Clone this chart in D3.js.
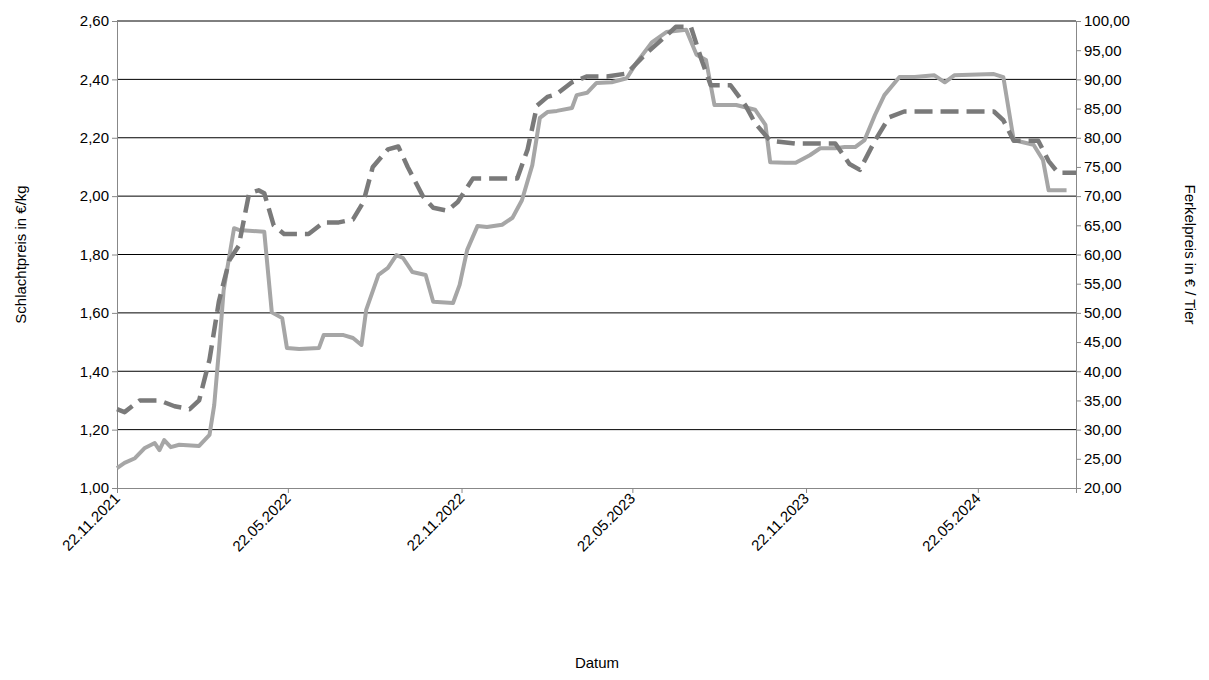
<!DOCTYPE html>
<html lang='en'>
<head>
<meta charset='utf-8' />
<title>Schlachtpreis / Ferkelpreis</title>
<script src='https://cdn.jsdelivr.net/npm/d3@7'></script>
<style>
  body { margin: 0; background: #fff; }
  text { font-family: 'Liberation Sans', Arial, sans-serif; font-size: 15px; fill: #000; }
</style>
</head>
<body>
<svg id='chart' width='1209' height='680'></svg>
<script>
// Schlachtpreis (€/kg), left axis
var schlachtDates = ["2021-11-22","2021-11-30","2021-12-16","2022-01-06","2022-01-22","2022-02-07","2022-02-17","2022-02-28","2022-03-10","2022-03-21","2022-03-31","2022-04-11","2022-04-21","2022-04-27","2022-05-07","2022-05-18","2022-06-13","2022-06-29","2022-07-15","2022-07-30","2022-08-10","2022-08-20","2022-09-05","2022-09-16","2022-09-26","2022-10-12","2022-10-23","2022-11-07","2022-11-18","2022-12-04","2022-12-19","2023-01-20","2023-01-31","2023-02-10","2023-02-21","2023-03-03","2023-03-19","2023-04-04","2023-04-25","2023-05-16","2023-06-06","2023-06-27","2023-07-07","2023-07-23","2023-08-03","2023-08-13","2023-09-03","2023-09-19","2023-09-29","2023-10-15","2023-11-11","2023-12-23","2024-01-07","2024-01-18","2024-02-03","2024-02-18","2024-03-05","2024-04-27","2024-06-08","2024-06-18","2024-06-29","2024-07-25","2024-08-05","2024-08-15","2024-09-03"];
var schlachtValues = [1.27,1.26,1.30,1.30,1.28,1.27,1.30,1.44,1.64,1.78,1.83,2.01,2.02,2.01,1.90,1.87,1.87,1.91,1.91,1.92,1.98,2.10,2.16,2.17,2.10,2.00,1.96,1.95,1.98,2.06,2.06,2.06,2.16,2.31,2.34,2.35,2.39,2.41,2.41,2.42,2.49,2.55,2.58,2.58,2.47,2.38,2.38,2.31,2.25,2.19,2.18,2.18,2.11,2.09,2.19,2.27,2.29,2.29,2.29,2.26,2.19,2.19,2.12,2.08,2.08];

// Ferkelpreis (€/Tier), right axis
var ferkelDates = ["2021-11-22","2021-11-30","2021-12-11","2021-12-21","2022-01-01","2022-01-06","2022-01-11","2022-01-18","2022-01-27","2022-02-17","2022-02-28","2022-03-05","2022-03-10","2022-03-15","2022-03-26","2022-03-31","2022-04-27","2022-05-05","2022-05-16","2022-05-21","2022-06-03","2022-06-24","2022-06-29","2022-07-20","2022-07-30","2022-08-08","2022-08-13","2022-08-26","2022-09-05","2022-09-14","2022-09-21","2022-10-01","2022-10-15","2022-10-23","2022-11-13","2022-11-20","2022-11-28","2022-12-09","2022-12-19","2023-01-04","2023-01-15","2023-01-25","2023-02-05","2023-02-13","2023-02-21","2023-03-03","2023-03-19","2023-03-24","2023-04-04","2023-04-14","2023-04-30","2023-05-16","2023-05-27","2023-06-12","2023-06-27","2023-07-18","2023-07-29","2023-08-08","2023-08-17","2023-09-09","2023-09-29","2023-10-10","2023-10-15","2023-10-31","2023-11-11","2023-11-26","2023-12-07","2023-12-23","2024-01-02","2024-01-13","2024-01-23","2024-02-03","2024-02-13","2024-02-29","2024-03-16","2024-04-06","2024-04-17","2024-04-27","2024-06-08","2024-06-18","2024-06-29","2024-07-20","2024-07-30","2024-08-05","2024-08-24"];
var ferkelValues = [23.4,24.3,25.1,26.8,27.7,26.5,28.2,27.0,27.4,27.2,29.1,34.2,43.6,53.9,64.5,64.2,63.9,50.1,49.1,44.0,43.8,44.0,46.2,46.2,45.7,44.5,50.5,56.5,57.7,59.9,59.4,57.0,56.5,51.9,51.7,54.8,60.8,64.9,64.7,65.1,66.3,69.3,75.3,83.4,84.4,84.6,85.1,87.3,87.7,89.4,89.5,90.2,93.0,96.4,98.1,98.5,94.2,93.3,85.6,85.6,84.8,82.2,75.8,75.7,75.7,77.0,78.2,78.2,78.4,78.4,79.6,83.9,87.3,90.4,90.4,90.7,89.5,90.7,90.9,90.4,79.6,78.8,76.2,71.0,71.0];

var leftTicks = [1.0,1.2,1.4,1.6,1.8,2.0,2.2,2.4,2.6];
var rightTicks = [20,25,30,35,40,45,50,55,60,65,70,75,80,85,90,95,100];
var dateTicks = ["2021-11-22","2022-05-22","2022-11-22","2023-05-22","2023-11-22","2024-05-22"];

var parse = d3.timeParse("%Y-%m-%d");
var fmtNum = function(v, n) { return d3.format("." + n + "f")(v).replace(".", ","); };

var svg = d3.select("#chart");
var m = { left: 117, right: 1076, top: 21, bottom: 488 };

var x = d3.scaleTime().domain([parse("2021-11-22"), parse("2024-09-03")]).range([m.left, m.right]);
var yL = d3.scaleLinear().domain([1, 2.6]).range([m.bottom, m.top]);
var yR = d3.scaleLinear().domain([20, 100]).range([m.bottom, m.top]);

// gridlines
svg.append("g").selectAll("line").data(leftTicks.slice(1)).join("line")
  .attr("x1", m.left).attr("x2", m.right)
  .attr("y1", function(d) { return yL(d); }).attr("y2", function(d) { return yL(d); })
  .attr("stroke", "#000").attr("stroke-width", 1);

var axL = svg.append("g").attr("transform", "translate(" + m.left + ",0)")
  .call(d3.axisLeft(yL).tickValues(leftTicks).tickSize(5).tickFormat(function(d) { return fmtNum(d, 2); }));
var axR = svg.append("g").attr("transform", "translate(" + m.right + ",0)")
  .call(d3.axisRight(yR).tickValues(rightTicks).tickSize(5).tickFormat(function(d) { return fmtNum(d, 2); }));
var axX = svg.append("g").attr("transform", "translate(0," + m.bottom + ")")
  .call(d3.axisBottom(x).tickValues(dateTicks.map(parse)).tickSize(5).tickFormat(d3.timeFormat("%d.%m.%Y")));

[axL, axR, axX].forEach(function(a) {
  a.selectAll("path, line").attr("stroke", "#888");
  a.selectAll("text").style("font-size", "15px").style("font-family", "'Liberation Sans', Arial, sans-serif");
});
axX.selectAll("text").attr("text-anchor", "end")
  .attr("transform", "translate(-6,2) rotate(-45)").attr("dy", "0.35em");

var lineL = d3.line().x(function(d) { return x(d[0]); }).y(function(d) { return yL(d[1]); });
var lineR = d3.line().x(function(d) { return x(d[0]); }).y(function(d) { return yR(d[1]); });

svg.append("path")
  .datum(ferkelDates.map(function(d, i) { return [parse(d), ferkelValues[i]]; }))
  .attr("d", lineR).attr("fill", "none").attr("stroke", "#a6a6a6").attr("stroke-width", 4)
  .attr("stroke-linejoin", "round");

svg.append("path")
  .datum(schlachtDates.map(function(d, i) { return [parse(d), schlachtValues[i]]; }))
  .attr("d", lineL).attr("fill", "none").attr("stroke", "#7a7a7a").attr("stroke-width", 4.5)
  .attr("stroke-dasharray", "18,8").attr("stroke-linejoin", "round");

svg.append("text").attr("transform", "translate(26," + ((m.top + m.bottom) / 2) + ") rotate(-90)")
  .attr("text-anchor", "middle").text("Schlachtpreis in €/kg");
svg.append("text").attr("transform", "translate(1185," + ((m.top + m.bottom) / 2) + ") rotate(90)")
  .attr("text-anchor", "middle").text("Ferkelpreis in € / Tier");
svg.append("text").attr("x", 597).attr("y", 668).attr("text-anchor", "middle").text("Datum");
</script>
</body>
</html>
